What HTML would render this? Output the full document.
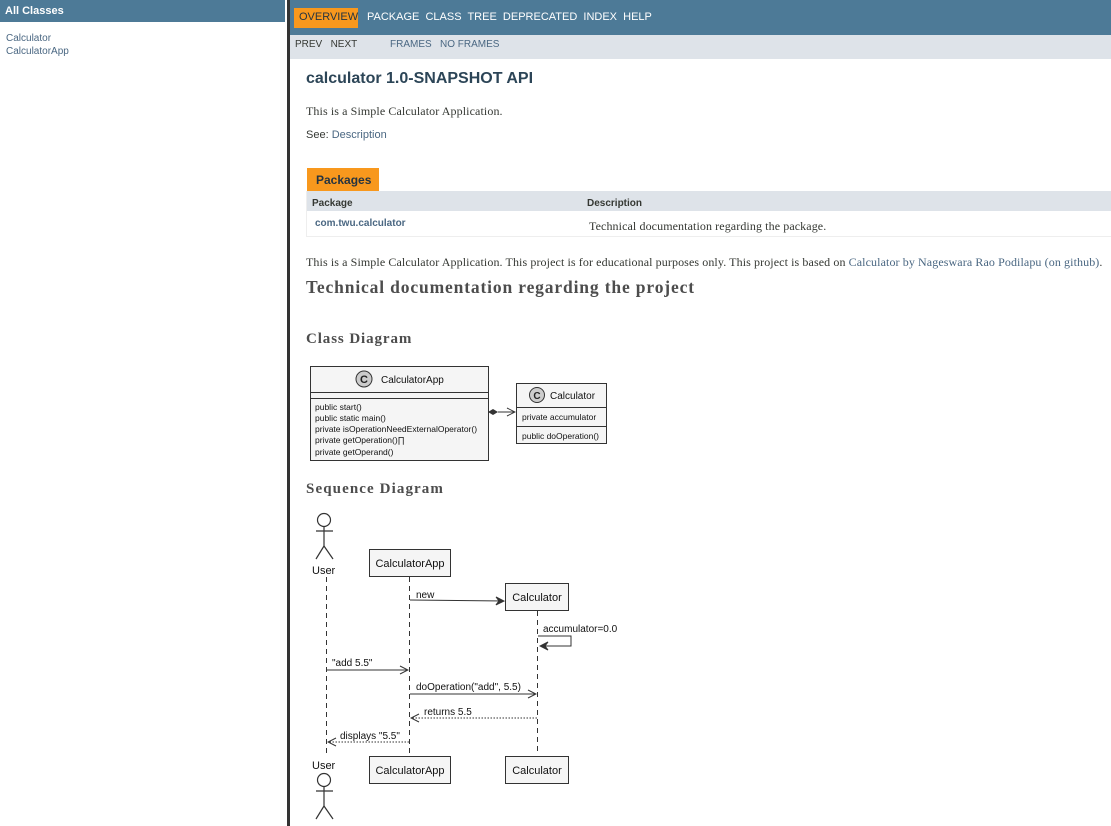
<!DOCTYPE html>
<html><head><meta charset="utf-8"><style>
*{margin:0;padding:0;box-sizing:border-box}
body{width:1111px;height:826px;overflow:hidden;background:#fff;position:relative;font-family:"Liberation Sans",Arial,sans-serif}
.a{position:absolute;white-space:nowrap}
.serif{font-family:"Liberation Serif","DejaVu Serif",serif}
.lnk{color:#4a6782}
</style></head><body>
<div class="a" style="left:0;top:0;width:285px;height:22px;background:#4d7a97"></div>
<div class="a" style="left:5px;top:5px;font-size:11px;font-weight:bold;color:#fff">All Classes</div>
<div class="a lnk" style="left:6px;top:32px;font-size:10px;line-height:13px">Calculator<br>CalculatorApp</div>
<div class="a" style="left:287px;top:0;width:3px;height:826px;background:#333"></div>
<div class="a" style="left:290px;top:0;width:821px;height:35px;background:#4d7a97"></div>
<div class="a" style="left:294px;top:8px;width:64px;height:20px;background:#f8981d"></div>
<div class="a" style="left:299px;top:11px;font-size:11px;color:#253441">OVERVIEW</div>
<div class="a" style="left:367px;top:11px;font-size:11px;color:#fff">PACKAGE&nbsp; CLASS&nbsp; TREE&nbsp; DEPRECATED&nbsp; INDEX&nbsp; HELP</div>
<div class="a" style="left:290px;top:35px;width:821px;height:24px;background:#dee3e9"></div>
<div class="a" style="left:295px;top:39px;font-size:10px;color:#353833">PREV&nbsp;&nbsp; NEXT</div>
<div class="a" style="left:390px;top:39px;font-size:10px;color:#4a6782">FRAMES&nbsp;&nbsp; NO FRAMES</div>
<div class="a" style="left:306px;top:70px;font-size:16px;font-weight:bold;color:#2c4557">calculator 1.0-SNAPSHOT API</div>
<div class="a serif" style="left:306px;top:104px;font-size:12px;color:#353833;letter-spacing:0.1px">This is a Simple Calculator Application.</div>
<div class="a" style="left:306px;top:129px;font-size:11px;color:#353833">See: <span class="lnk">Description</span></div>
<div class="a" style="left:307px;top:168px;width:72px;height:23px;background:#f8981d"></div>
<div class="a" style="left:316px;top:173px;font-size:12px;font-weight:bold;color:#253441">Packages</div>
<div class="a" style="left:306px;top:191px;width:805px;height:20px;background:#dee3e9"></div>
<div class="a" style="left:306px;top:191px;width:805px;height:46px;border-left:1px solid #eee;border-bottom:1px solid #eee"></div>
<div class="a" style="left:312px;top:198px;font-size:10px;font-weight:bold;color:#353833">Package</div>
<div class="a" style="left:587px;top:198px;font-size:10px;font-weight:bold;color:#353833">Description</div>
<div class="a" style="left:315px;top:218px;font-size:10px;font-weight:bold;color:#4a6782">com.twu.calculator</div>
<div class="a serif" style="left:589px;top:219px;font-size:12px;color:#353833;letter-spacing:0.1px">Technical documentation regarding the package.</div>
<div class="a serif" style="left:306px;top:255px;font-size:12px;color:#353833;letter-spacing:0.1px">This is a Simple Calculator Application. This project is for educational purposes only. This project is based on <span class="lnk">Calculator by Nageswara Rao Podilapu (on github)</span>.</div>
<div class="a serif" style="left:306px;top:277px;font-size:17.5px;font-weight:bold;color:#4d4d4d;letter-spacing:0.85px">Technical documentation regarding the project</div>
<div class="a serif" style="left:306px;top:331px;font-size:15px;font-weight:bold;color:#4d4d4d;letter-spacing:0.9px">Class Diagram</div>
<div class="a serif" style="left:306px;top:481px;font-size:15px;font-weight:bold;color:#4d4d4d;letter-spacing:1.1px">Sequence Diagram</div>

<svg class="a" style="left:0;top:0" width="1111" height="826" font-family="Liberation Sans, Arial, sans-serif">
<defs>
<marker id="ar" markerWidth="10" markerHeight="10" refX="9" refY="5" orient="auto" markerUnits="userSpaceOnUse"><path d="M1,1 L9,5 L1,9" fill="none" stroke="#333" stroke-width="1"/></marker>
<marker id="arf" markerWidth="10" markerHeight="10" refX="9" refY="5" orient="auto" markerUnits="userSpaceOnUse"><path d="M1,1 L9,5 L1,9 L4,5z" fill="#333" stroke="#333" stroke-width="1"/></marker>
</defs>
<rect x="310.5" y="366.5" width="178" height="94" fill="#f5f5f5" stroke="#333"/>
<line x1="310" y1="392.5" x2="489" y2="392.5" stroke="#333"/>
<line x1="310" y1="398.5" x2="489" y2="398.5" stroke="#333"/>
<circle cx="364" cy="379" r="8" fill="#ccc" stroke="#333"/>
<text x="364" y="383" font-size="11" font-weight="bold" text-anchor="middle" fill="#222">C</text>
<text x="381" y="383" font-size="10" fill="#111">CalculatorApp</text>
<g font-size="8.5" fill="#111">
<text x="315" y="410">public start()</text>
<text x="315" y="421">public static main()</text>
<text x="315" y="432">private isOperationNeedExternalOperator()</text>
<text x="315" y="443">private getOperation()∏</text>
<text x="315" y="455">private getOperand()</text>
</g>
<rect x="516.5" y="383.5" width="90" height="60" fill="#f5f5f5" stroke="#333"/>
<line x1="516" y1="407.5" x2="607" y2="407.5" stroke="#333"/>
<line x1="516" y1="426.5" x2="607" y2="426.5" stroke="#333"/>
<circle cx="537" cy="395" r="7.5" fill="#ccc" stroke="#333"/>
<text x="537" y="399" font-size="10" font-weight="bold" text-anchor="middle" fill="#222">C</text>
<text x="550" y="399" font-size="10" fill="#111">Calculator</text>
<text x="522" y="420" font-size="8.5" fill="#111">private accumulator</text>
<text x="522" y="439" font-size="8.5" fill="#111">public doOperation()</text>
<path d="M488,412 L493,409 L498,412 L493,415z" fill="#333"/>
<line x1="498" y1="412" x2="515" y2="412" stroke="#333" marker-end="url(#ar)"/>
<g stroke="#333" fill="none" stroke-width="1.2">
<circle cx="324" cy="520" r="6.5"/>
<line x1="324" y1="527" x2="324" y2="546"/><line x1="316" y1="531" x2="333" y2="531"/>
<line x1="324" y1="546" x2="316" y2="559"/><line x1="324" y1="546" x2="333" y2="559"/>
<circle cx="324" cy="780" r="6.5"/>
<line x1="324" y1="787" x2="324" y2="806"/><line x1="316" y1="791" x2="333" y2="791"/>
<line x1="324" y1="806" x2="316" y2="819"/><line x1="324" y1="806" x2="333" y2="819"/>
</g>
<g stroke="#333" stroke-dasharray="5,4">
<line x1="326.5" y1="577" x2="326.5" y2="755"/>
<line x1="409.5" y1="577" x2="409.5" y2="755"/>
<line x1="537.5" y1="611" x2="537.5" y2="755"/>
</g>
<g fill="#f5f5f5" stroke="#333">
<rect x="369.5" y="549.5" width="81" height="27"/>
<rect x="505.5" y="583.5" width="63" height="27"/>
<rect x="369.5" y="756.5" width="81" height="27"/>
<rect x="505.5" y="756.5" width="63" height="27"/>
</g>
<g font-size="11" fill="#111">
<text x="312" y="574">User</text>
<text x="312" y="769">User</text>
<text x="410" y="567" text-anchor="middle">CalculatorApp</text>
<text x="537" y="601" text-anchor="middle">Calculator</text>
<text x="410" y="774" text-anchor="middle">CalculatorApp</text>
<text x="537" y="774" text-anchor="middle">Calculator</text>
<text x="416" y="598" font-size="10">new</text>
<text x="543" y="632" font-size="10">accumulator=0.0</text>
<text x="332" y="666" font-size="10">"add 5.5"</text>
<text x="416" y="690" font-size="10">doOperation("add", 5.5)</text>
<text x="424" y="715" font-size="10">returns 5.5</text>
<text x="340" y="739" font-size="10">displays "5.5"</text>
</g>
<g stroke="#333" fill="none">
<line x1="410" y1="600" x2="504" y2="601" marker-end="url(#arf)"/>
<path d="M538,636 H571 V646 H540" marker-end="url(#arf)"/>
<line x1="327" y1="670" x2="408" y2="670" marker-end="url(#ar)"/>
<line x1="410" y1="694" x2="536" y2="694" marker-end="url(#ar)"/>
<line x1="537" y1="718" x2="411" y2="718" stroke-dasharray="1.5,1.5" marker-end="url(#ar)"/>
<line x1="409" y1="742" x2="328" y2="742" stroke-dasharray="1.5,1.5" marker-end="url(#ar)"/>
</g>
</svg>
</body></html>
